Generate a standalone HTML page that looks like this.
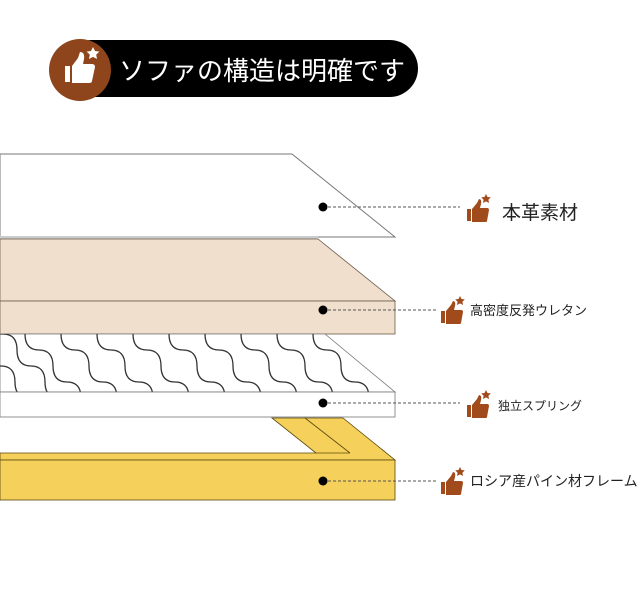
<!DOCTYPE html>
<html><head><meta charset="utf-8"><style>
html,body{margin:0;padding:0;background:#fff;width:640px;height:595px;overflow:hidden}
text{font-family:"Liberation Sans","Noto Sans CJK JP",sans-serif}
</style></head><body>
<svg width="640" height="595" viewBox="0 0 640 595" xmlns="http://www.w3.org/2000/svg">
<defs>
<clipPath id="sp"><polygon points="0,334 325,334 395,392 0,392"/></clipPath>
<g id="th"><path d="M0,9 h4 v12 h-4z M5,9 l5,-6 l2,-4 q3,0 2,5 l-1,4 h7 q2,0 2,2 l-2,11 q0,1 -2,1 h-13z" fill="#a14a1c"/><path d="M19,-6 l1.5,3 3.3,.4 -2.4,2.3 .6,3.3 -3,-1.6 -3,1.6 .6,-3.3 -2.4,-2.3 3.3,-.4z" fill="#a14a1c"/></g>
</defs>
<rect x="63" y="40" width="355" height="57" rx="28.5" fill="#000"/>
<circle cx="80" cy="70" r="31" fill="#8f451c"/>
<path d="M65,66 h5 v16 h-5z M72,66 l6,-8 l2,-6 q5,0 4,7 l-1,5 h9 q3,0 3,3 l-3,14 q0,2 -3,2 h-17z" fill="#fff"/>
<path d="M93,47 l2,4 4.4,.6 -3.2,3 .8,4.4 -4,-2.1 -4,2.1 .8,-4.4 -3.2,-3 4.4,-.6z" fill="#fff"/>
<text x="119" y="80" font-size="26" fill="#fff">ソファの構造は明確です</text>
<polygon points="0,154 292,154 395,237 0,237" fill="#fff" stroke="#777" stroke-width="1"/>
<rect x="0" y="236" width="318" height="3" fill="#ccc"/>
<polygon points="0,239 318,239 395,301 0,301" fill="#f0dfcd" stroke="#6a5a4a" stroke-width="0.8"/>
<rect x="0" y="301" width="395" height="33" fill="#f0dfcd" stroke="#6a5a4a" stroke-width="0.8"/>
<polygon points="0,334 325,334 395,392 0,392" fill="#fff" stroke="#777" stroke-width="0.8"/>
<g clip-path="url(#sp)" fill="none" stroke="#333" stroke-width="1.3">
<path d="M-11,318 Q-11,334 3,334 T17,350 Q17,366 31,366 T45,382 Q45,398 59,398"/>
<path id="sc" d="M25,334 Q25,350 39,350 T53,366 Q53,382 67,382 T81,398"/>
<use href="#sc" x="36"/><use href="#sc" x="72"/><use href="#sc" x="108"/><use href="#sc" x="144"/><use href="#sc" x="180"/><use href="#sc" x="216"/><use href="#sc" x="252"/><use href="#sc" x="288"/><use href="#sc" x="324"/>
<path d="M-13,350 Q-13,366 1,366 T15,382 Q15,398 29,398"/>
</g>
<rect x="0" y="392" width="395" height="25" fill="#fff" stroke="#777" stroke-width="0.8"/>
<polygon points="272,418 343,418 395,460 0,460 0,453 316,453" fill="#f5d05a" stroke="#5a4a10" stroke-width="0.8"/>
<line x1="305" y1="418" x2="350" y2="453" stroke="#5a4a10" stroke-width="0.8"/>
<line x1="316" y1="453" x2="350" y2="453" stroke="#5a4a10" stroke-width="0.8"/>
<rect x="0" y="460" width="395" height="40" fill="#f5d05a" stroke="#5a4a10" stroke-width="0.8"/>
<g stroke="#555" stroke-width="1" stroke-dasharray="3,2">
<line x1="323" y1="207" x2="460" y2="207"/>
<line x1="323" y1="310" x2="438" y2="310"/>
<line x1="323" y1="403" x2="460" y2="403"/>
<line x1="323" y1="481" x2="438" y2="481"/>
</g>
<g fill="#000"><circle cx="323" cy="207" r="4.5"/><circle cx="323" cy="310" r="4.5"/><circle cx="323" cy="403" r="4.5"/><circle cx="323" cy="481" r="4.5"/></g>
<use href="#th" x="467" y="200"/>
<use href="#th" x="441" y="302"/>
<use href="#th" x="467" y="396"/>
<use href="#th" x="441" y="473"/>
<text x="502" y="219" font-size="19" fill="#222">本革素材</text>
<text x="470" y="315" font-size="13" fill="#222">高密度反発ウレタン</text>
<text x="498" y="410" font-size="12" fill="#222">独立スプリング</text>
<text x="470" y="486" font-size="14" fill="#222">ロシア産パイン材フレーム</text>
</svg>
</body></html>
